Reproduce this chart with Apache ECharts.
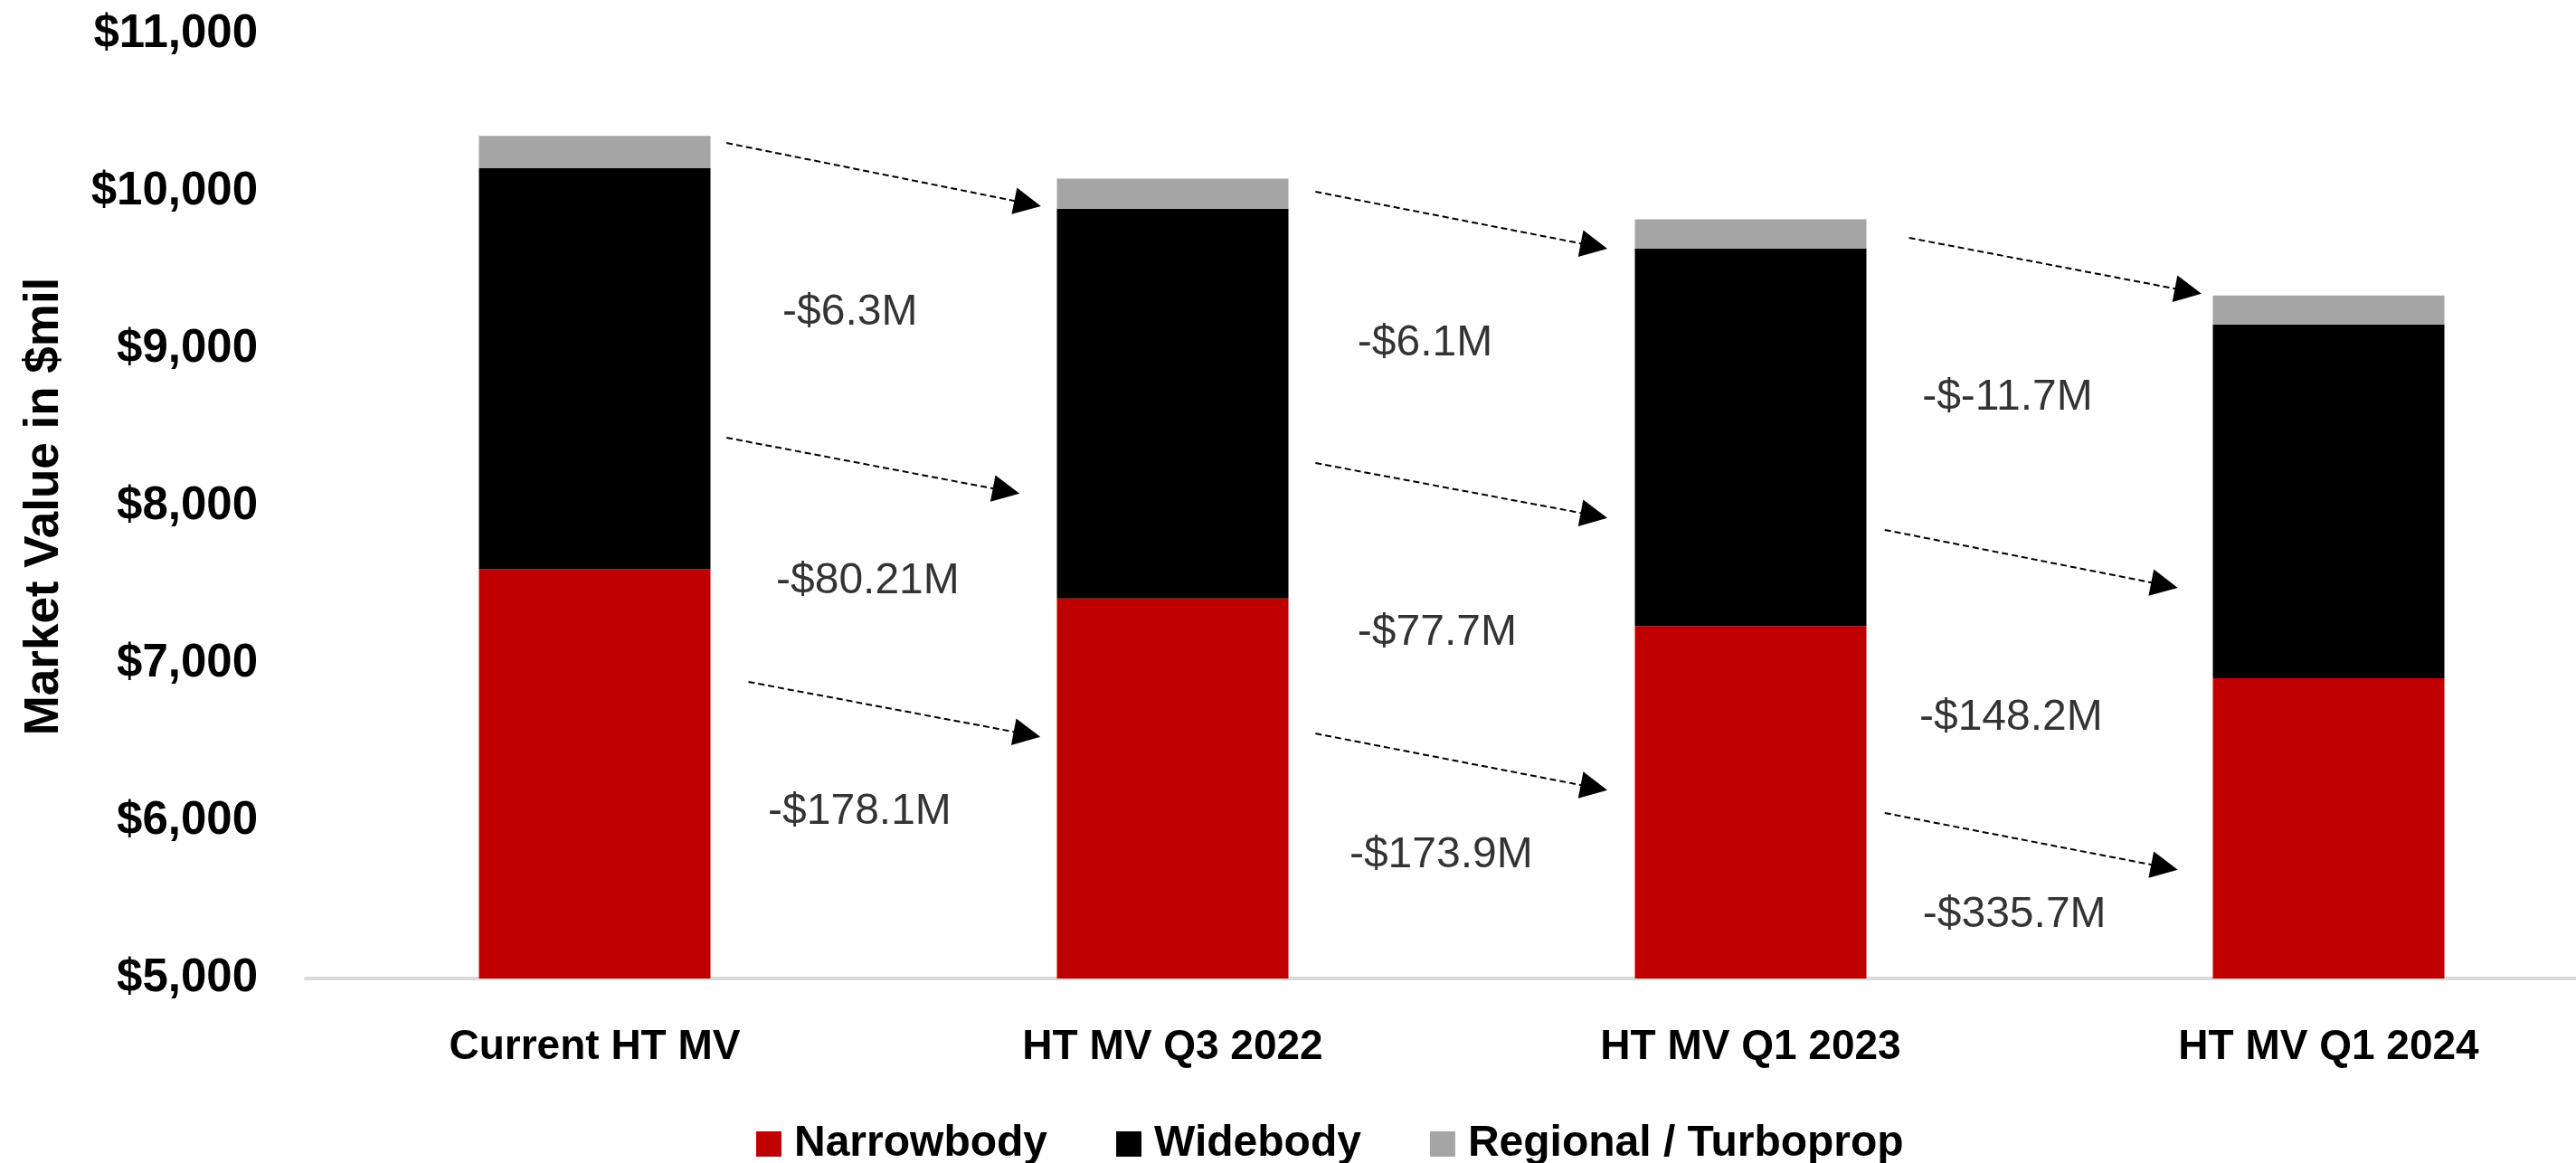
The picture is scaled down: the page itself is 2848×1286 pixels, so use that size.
<!DOCTYPE html>
<html>
<head>
<meta charset="utf-8">
<title>HT MV</title>
<script src="https://cdn.jsdelivr.net/npm/echarts@6/dist/echarts.min.js"></script>
<style>
  html, body { margin: 0; padding: 0; background: #fff; }
  #main { width: 2848px; height: 1286px; }
</style>
</head>
<body>
<div id="main"></div>
<script>
  // categories and stacked values ($mil)
  const categories = ['Current HT MV', 'HT MV Q3 2022', 'HT MV Q1 2023', 'HT MV Q1 2024'];
  const narrowbody = [7600, 7415, 7240, 6908];
  const widebody = [2550, 2477, 2400, 2248];
  const regional = [205, 192, 184, 184];

  // y axis range
  const yMin = 5000;
  const yMax = 11000;
  const yStep = 1000;

  // change arrows: [category position, value] start -> end
  const arrowFrom = [
    [0.228, 10310], [0.228, 8437], [0.266, 6885],
    [1.247, 10000], [1.247, 8276], [1.247, 6557],
    [2.274, 9707], [2.232, 7851], [2.232, 6052]
  ];
  const arrowTo = [
    [0.749, 9925], [0.712, 8098], [0.748, 6552],
    [1.729, 9655], [1.729, 7943], [1.729, 6213],
    [2.757, 9368], [2.716, 7500], [2.716, 5707]
  ];

  // change labels and where they sit
  const changeText = ['-$6.3M', '-$80.21M', '-$178.1M', '-$6.1M', '-$77.7M', '-$173.9M', '-$-11.7M', '-$148.2M', '-$335.7M'];
  const changePos = [
    [0.324, 9230], [0.313, 7523], [0.299, 6057],
    [1.319, 9034], [1.319, 7195], [1.305, 5782],
    [2.296, 8690], [2.291, 6655], [2.297, 5402]
  ];

  const baseFont = "'Liberation Sans', Arial, sans-serif";

  let chart = echarts.init(document.getElementById('main'));

  let option = {
    backgroundColor: '#ffffff',
    animation: false,
    grid: {
      left: 338,
      right: -46,
      top: 38,
      bottom: 204,
      outerBoundsMode: 'none'
    },
    legend: {
      left: 831,
      top: 1236,
      itemWidth: 28,
      itemHeight: 28,
      itemGap: 76,
      icon: 'rect',
      textStyle: {
        fontFamily: baseFont,
        fontWeight: 'bold',
        fontSize: 48,
        color: '#000',
        padding: [0, 0, 0, 9]
      },
      data: ['Narrowbody', 'Widebody', 'Regional / Turboprop']
    },
    xAxis: [
      {
        type: 'category',
        data: categories,
        axisLine: { lineStyle: { color: '#d9d9d9', width: 4 } },
        axisTick: { show: false },
        axisLabel: {
          margin: 53,
          fontFamily: baseFont,
          fontWeight: 'bold',
          fontSize: 46,
          color: '#000'
        }
      },
      {
        // hidden helper axis for placing arrows and notes between bars
        type: 'value',
        min: -0.5,
        max: 3.5,
        show: false
      }
    ],
    yAxis: {
      type: 'value',
      min: yMin,
      max: yMax,
      interval: yStep,
      name: 'Market Value in $mil',
      nameLocation: 'middle',
      nameRotate: 90,
      nameGap: 262,
      nameTextStyle: {
        fontFamily: baseFont,
        fontWeight: 'bold',
        fontSize: 53,
        color: '#000'
      },
      axisLine: { show: false },
      axisTick: { show: false },
      splitLine: { show: false },
      axisLabel: {
        margin: 53,
        fontFamily: baseFont,
        fontWeight: 'bold',
        fontSize: 51,
        color: '#000',
        formatter: function (v) {
          return '$' + v.toLocaleString('en-US');
        }
      }
    },
    series: [
      {
        name: 'Narrowbody',
        type: 'bar',
        stack: 'mv',
        barWidth: 256,
        itemStyle: { color: '#C00000' },
        data: narrowbody
      },
      {
        name: 'Widebody',
        type: 'bar',
        stack: 'mv',
        barWidth: 256,
        itemStyle: { color: '#000000' },
        data: widebody
      },
      {
        name: 'Regional / Turboprop',
        type: 'bar',
        stack: 'mv',
        barWidth: 256,
        itemStyle: { color: '#A5A5A5' },
        data: regional
      },
      {
        type: 'lines',
        coordinateSystem: 'cartesian2d',
        xAxisIndex: 1,
        yAxisIndex: 0,
        symbol: ['none', 'triangle'],
        symbolSize: 30,
        silent: true,
        lineStyle: { color: '#000', width: 2, type: [7, 4], opacity: 1 },
        itemStyle: { color: '#000' },
        data: arrowFrom.map(function (p, i) {
          return { coords: [p, arrowTo[i]] };
        })
      },
      {
        type: 'scatter',
        xAxisIndex: 1,
        yAxisIndex: 0,
        symbolSize: 1,
        itemStyle: { color: 'transparent' },
        silent: true,
        label: {
          show: true,
          position: 'right',
          distance: 0,
          fontFamily: baseFont,
          fontSize: 48,
          color: '#000',
          formatter: function (p) {
            return changeText[p.dataIndex];
          }
        },
        data: changePos
      }
    ]
  };

  chart.setOption(option);
</script>
</body>
</html>
